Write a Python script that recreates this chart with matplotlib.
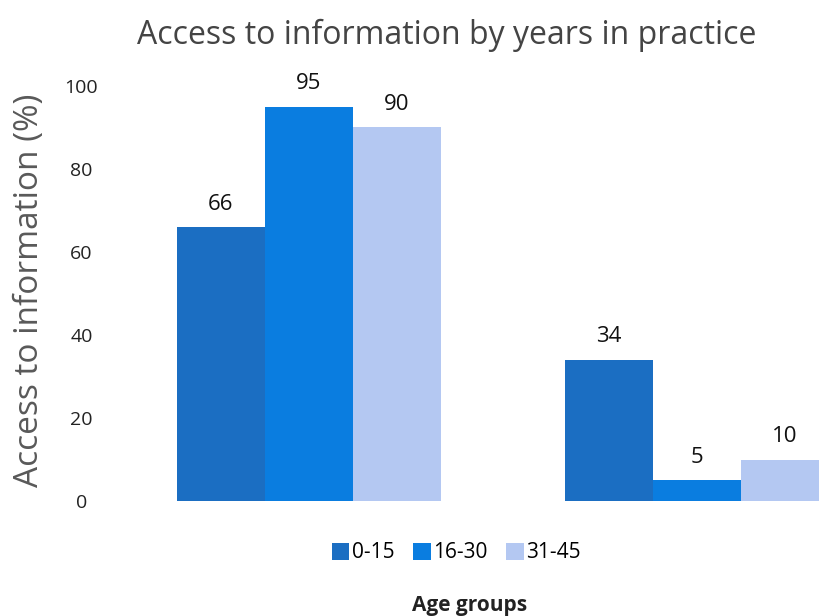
import matplotlib.pyplot as plt
import numpy as np

plt.rcParams['font.family'] = ['Open Sans', 'DejaVu Sans']

groups = ['Group 1', 'Group 2']
series = ['0-15', '16-30', '31-45']
values = {
    '0-15': [66, 34],
    '16-30': [95, 5],
    '31-45': [90, 10],
}
colors = ['#1B6EC2', '#0A7DE0', '#B4C8F2']

fig = plt.figure(figsize=(8.19, 6.16), dpi=100)
ax = fig.add_axes([130 / 819, 115 / 616, 689 / 819, 415 / 616])

x = np.arange(len(groups))
w = 0.227
for i, (name, c) in enumerate(zip(series, colors)):
    pos = x + (i - 1) * w
    bars = ax.bar(pos, values[name], width=w, color=c, label=name)
    for b, v in zip(bars, values[name]):
        ax.text(b.get_x() + b.get_width() / 2, v + 3, str(v),
                ha='center', va='bottom', fontsize=16, color='#111111',
                clip_on=False)

ax.set_xlim(-0.461, 1.315)
ax.set_ylim(0, 100)
ax.set_xticks([])
ax.set_yticks(np.arange(0, 101, 20))
ax.tick_params(axis='y', length=0, pad=35, labelsize=14, labelcolor='#222222')
for lbl in ax.get_yticklabels():
    lbl.set_horizontalalignment('center')
for s in ax.spines.values():
    s.set_visible(False)

fig.text(447 / 819, 1 - 35 / 616, 'Access to information by years in practice',
         ha='center', va='center', fontsize=23, color='#444444')
fig.text(30 / 819, 1 - 290 / 616, 'Access to information (%)', rotation=90,
         ha='center', va='center', fontsize=24, color='#595959')
fig.text(470 / 819, 1 - 605 / 616, 'Age groups', ha='center', va='center',
         fontsize=15, fontweight='bold', color='#222222')

fig.legend(loc='center', bbox_to_anchor=(456 / 819, 1 - 553 / 616), ncol=3,
           frameon=False, fontsize=15, handlelength=0.85, handleheight=0.85,
           handletextpad=0.1, columnspacing=0.9)

fig.savefig('out.png', dpi=100)
